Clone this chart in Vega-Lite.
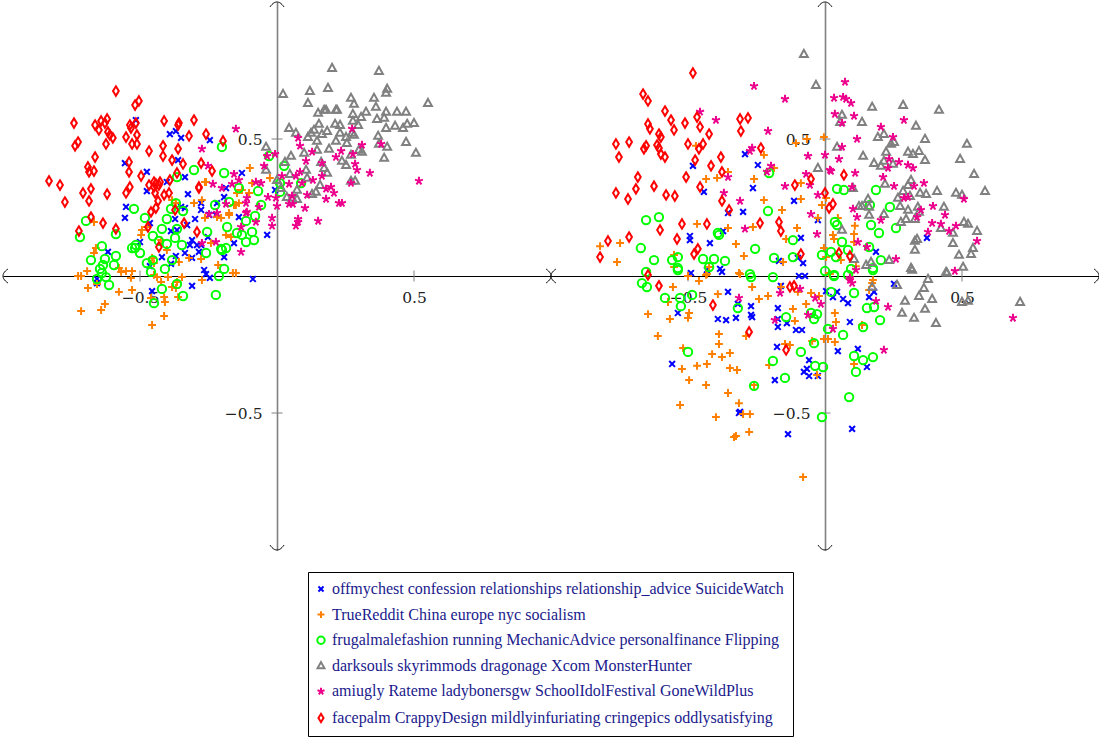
{"$schema":"https://vega.github.io/schema/vega-lite/v6.json","padding":{"left":1,"top":0,"right":0,"bottom":0},"background":"white","spacing":-2,"bounds":"flush",
"config":{"view":{"stroke":null},"concat":{"spacing":-2},"axis":{"grid":false,"title":null,"ticks":false,"labelFont":"DejaVu Serif","labelFontSize":15.5,"labelColor":"#222222","labelOverlap":false,"labelFlush":false}},
"datasets":{
"xticks":[{"x":-0.5,"y":-0.02,"y2":0.02},{"x":0.5,"y":-0.02,"y2":0.02}],
"yticks":[{"y":-0.5,"x":-0.02,"x2":0.02},{"y":0.5,"x":-0.02,"x2":0.02}],
"left":[
{"s":"a","x":-0.515,"y":0.569},{"s":"a","x":-0.391,"y":0.518},{"s":"a","x":-0.369,"y":0.529},{"s":"a","x":-0.35,"y":0.504},{"s":"a","x":-0.245,"y":0.496},{"s":"a","x":-0.555,"y":0.412},{"s":"a","x":-0.361,"y":0.423},{"s":"a","x":-0.475,"y":0.38},{"s":"a","x":-0.336,"y":0.361},{"s":"a","x":-0.128,"y":0.376},{"s":"a","x":-0.402,"y":0.343},{"s":"a","x":-0.186,"y":0.321},{"s":"a","x":-0.475,"y":0.31},{"s":"a","x":-0.551,"y":0.252},{"s":"a","x":-0.555,"y":0.212},{"s":"a","x":-0.325,"y":0.299},{"s":"a","x":-0.193,"y":0.288},{"s":"a","x":-0.277,"y":0.266},{"s":"a","x":-0.277,"y":0.241},{"s":"a","x":-0.35,"y":0.252},{"s":"a","x":-0.336,"y":0.248},{"s":"a","x":-0.219,"y":0.266},{"s":"a","x":-0.464,"y":0.193},{"s":"a","x":-0.372,"y":0.208},{"s":"a","x":-0.299,"y":0.208},{"s":"a","x":-0.328,"y":0.186},{"s":"a","x":-0.387,"y":0.164},{"s":"a","x":-0.365,"y":0.168},{"s":"a","x":-0.139,"y":0.215},{"s":"a","x":-0.223,"y":0.223},{"s":"a","x":-0.248,"y":0.223},{"s":"a","x":-0.007,"y":0.314},{"s":"a","x":-0.036,"y":0.15},{"s":"a","x":-0.157,"y":0.12},{"s":"a","x":-0.252,"y":0.142},{"s":"a","x":-0.31,"y":0.131},{"s":"a","x":-0.318,"y":0.113},{"s":"a","x":-0.292,"y":0.113},{"s":"a","x":-0.277,"y":0.113},{"s":"a","x":-0.5,"y":0.124},{"s":"a","x":-0.617,"y":0.088},{"s":"a","x":-0.42,"y":0.069},{"s":"a","x":-0.369,"y":0.073},{"s":"a","x":-0.336,"y":0.084},{"s":"a","x":-0.285,"y":0.088},{"s":"a","x":-0.31,"y":0.066},{"s":"a","x":-0.387,"y":0.044},{"s":"a","x":-0.464,"y":0.036},{"s":"a","x":-0.193,"y":0.069},{"s":"a","x":-0.266,"y":0.022},{"s":"a","x":-0.259,"y":0.007},{"s":"a","x":-0.245,"y":-0.007},{"s":"a","x":-0.088,"y":-0.011},{"s":"a","x":-0.31,"y":-0.036},{"s":"a","x":-0.456,"y":-0.055},{"s":"a","x":-0.657,"y":-0.011},{"s":"a","x":-0.657,"y":-0.026},
{"s":"b","x":-0.726,"y":0},{"s":"b","x":-0.715,"y":0},{"s":"b","x":-0.693,"y":0.018},{"s":"b","x":-0.69,"y":-0.044},{"s":"b","x":-0.715,"y":-0.128},{"s":"b","x":-0.642,"y":-0.124},{"s":"b","x":-0.628,"y":-0.102},{"s":"b","x":-0.657,"y":-0.029},{"s":"b","x":-0.661,"y":0.102},{"s":"b","x":-0.668,"y":0.084},{"s":"b","x":-0.668,"y":0.197},{"s":"b","x":-0.577,"y":-0.058},{"s":"b","x":-0.529,"y":-0.051},{"s":"b","x":-0.577,"y":0.029},{"s":"b","x":-0.569,"y":0.015},{"s":"b","x":-0.551,"y":0.018},{"s":"b","x":-0.529,"y":0.018},{"s":"b","x":-0.533,"y":-0.007},{"s":"b","x":-0.456,"y":0.066},{"s":"b","x":-0.449,"y":0.047},{"s":"b","x":-0.449,"y":0.004},{"s":"b","x":-0.438,"y":-0.004},{"s":"b","x":-0.46,"y":-0.08},{"s":"b","x":-0.412,"y":-0.077},{"s":"b","x":-0.409,"y":-0.095},{"s":"b","x":-0.361,"y":-0.077},{"s":"b","x":-0.412,"y":-0.146},{"s":"b","x":-0.456,"y":-0.179},{"s":"b","x":-0.423,"y":-0.022},{"s":"b","x":-0.383,"y":-0.04},{"s":"b","x":-0.369,"y":-0.044},{"s":"b","x":-0.365,"y":-0.022},{"s":"b","x":-0.347,"y":-0.004},{"s":"b","x":-0.398,"y":-0.004},{"s":"b","x":-0.402,"y":0.095},{"s":"b","x":-0.358,"y":0.051},{"s":"b","x":-0.321,"y":0.066},{"s":"b","x":-0.277,"y":0.062},{"s":"b","x":-0.274,"y":-0.015},{"s":"b","x":-0.215,"y":0.04},{"s":"b","x":-0.161,"y":0.011},{"s":"b","x":-0.15,"y":0.011},{"s":"b","x":-0.496,"y":0.15},{"s":"b","x":-0.493,"y":0.168},{"s":"b","x":-0.475,"y":0.179},{"s":"b","x":-0.423,"y":0.131},{"s":"b","x":-0.303,"y":0.266},{"s":"b","x":-0.274,"y":0.277},{"s":"b","x":-0.263,"y":0.212},{"s":"b","x":-0.219,"y":0.215},{"s":"b","x":-0.175,"y":0.223},{"s":"b","x":-0.186,"y":0.15},{"s":"b","x":-0.168,"y":0.142},{"s":"b","x":-0.128,"y":0.314},{"s":"b","x":-0.146,"y":0.303},{"s":"b","x":-0.102,"y":0.303},{"s":"b","x":-0.139,"y":0.266},{"s":"b","x":-0.15,"y":0.259},{"s":"b","x":-0.091,"y":0.339},{"s":"b","x":-0.383,"y":0.277},{"s":"b","x":-0.369,"y":0.266},{"s":"b","x":-0.259,"y":0.343},{"s":"b","x":-0.241,"y":0.12},{"s":"b","x":-0.175,"y":0.23},{"s":"b","x":-0.204,"y":0.212},{"s":"b","x":-0.099,"y":0.394},{"s":"b","x":-0.263,"y":0.343},{"s":"b","x":-0.026,"y":0.358},{"s":"b","x":-0.157,"y":0.259},
{"s":"c","x":-0.719,"y":0.142},{"s":"c","x":-0.697,"y":0.201},{"s":"c","x":-0.588,"y":0.153},{"s":"c","x":-0.522,"y":0.245},{"s":"c","x":-0.482,"y":0.212},{"s":"c","x":-0.402,"y":0.208},{"s":"c","x":-0.42,"y":0.172},{"s":"c","x":-0.365,"y":0.172},{"s":"c","x":-0.453,"y":0.146},{"s":"c","x":-0.431,"y":0.128},{"s":"c","x":-0.402,"y":0.117},{"s":"c","x":-0.372,"y":0.139},{"s":"c","x":-0.347,"y":0.113},{"s":"c","x":-0.639,"y":0.109},{"s":"c","x":-0.679,"y":0.058},{"s":"c","x":-0.628,"y":0.062},{"s":"c","x":-0.588,"y":0.073},{"s":"c","x":-0.595,"y":0.04},{"s":"c","x":-0.635,"y":0.04},{"s":"c","x":-0.646,"y":0.026},{"s":"c","x":-0.639,"y":0.011},{"s":"c","x":-0.624,"y":-0.004},{"s":"c","x":-0.657,"y":-0.011},{"s":"c","x":-0.613,"y":-0.033},{"s":"c","x":-0.529,"y":0.102},{"s":"c","x":-0.515,"y":0.113},{"s":"c","x":-0.518,"y":0.102},{"s":"c","x":-0.5,"y":0.084},{"s":"c","x":-0.475,"y":0.047},{"s":"c","x":-0.453,"y":0.058},{"s":"c","x":-0.46,"y":0.015},{"s":"c","x":-0.409,"y":0.026},{"s":"c","x":-0.383,"y":0.058},{"s":"c","x":-0.42,"y":-0.047},{"s":"c","x":-0.365,"y":-0.029},{"s":"c","x":-0.343,"y":-0.073},{"s":"c","x":-0.449,"y":-0.099},{"s":"c","x":-0.223,"y":-0.069},{"s":"c","x":-0.212,"y":0},{"s":"c","x":-0.193,"y":0.026},{"s":"c","x":-0.259,"y":0.084},{"s":"c","x":-0.204,"y":0.099},{"s":"c","x":-0.186,"y":0.102},{"s":"c","x":-0.201,"y":0.095},{"s":"c","x":-0.146,"y":0.157},{"s":"c","x":-0.128,"y":0.15},{"s":"c","x":-0.113,"y":0.124},{"s":"c","x":-0.091,"y":0.161},{"s":"c","x":-0.084,"y":0.131},{"s":"c","x":-0.182,"y":0.179},{"s":"c","x":-0.255,"y":0.161},{"s":"c","x":-0.113,"y":0.201},{"s":"c","x":-0.08,"y":0.219},{"s":"c","x":-0.058,"y":0.259},{"s":"c","x":-0.069,"y":0.31},{"s":"c","x":-0.226,"y":0.259},{"s":"c","x":-0.175,"y":0.27},{"s":"c","x":-0.139,"y":0.321},{"s":"c","x":-0.343,"y":0.237},{"s":"c","x":-0.369,"y":0.266},{"s":"c","x":-0.387,"y":0.245},{"s":"c","x":-0.201,"y":0.471},{"s":"c","x":-0.029,"y":0.438},{"s":"c","x":-0.303,"y":0.387},{"s":"c","x":-0.193,"y":0.376},{"s":"c","x":-0.365,"y":0.361},{"s":"c","x":0.026,"y":0.402},{"s":"c","x":0.088,"y":0.339},{"s":"c","x":0.011,"y":0.339},{"s":"c","x":0.011,"y":0.307},
{"s":"d","x":0.201,"y":0.759},{"s":"d","x":0.372,"y":0.748},{"s":"d","x":0.402,"y":0.683},{"s":"d","x":0.398,"y":0.668},{"s":"d","x":0.022,"y":0.664},{"s":"d","x":0.12,"y":0.675},{"s":"d","x":0.186,"y":0.686},{"s":"d","x":0.27,"y":0.65},{"s":"d","x":0.281,"y":0.628},{"s":"d","x":0.354,"y":0.65},{"s":"d","x":0.361,"y":0.617},{"s":"d","x":0.113,"y":0.631},{"s":"d","x":0.551,"y":0.631},{"s":"d","x":0.15,"y":0.595},{"s":"d","x":0.172,"y":0.606},{"s":"d","x":0.179,"y":0.606},{"s":"d","x":0.215,"y":0.606},{"s":"d","x":0.219,"y":0.606},{"s":"d","x":0.277,"y":0.591},{"s":"d","x":0.325,"y":0.599},{"s":"d","x":0.307,"y":0.58},{"s":"d","x":0.277,"y":0.566},{"s":"d","x":0.398,"y":0.599},{"s":"d","x":0.391,"y":0.577},{"s":"d","x":0.365,"y":0.573},{"s":"d","x":0.438,"y":0.599},{"s":"d","x":0.471,"y":0.599},{"s":"d","x":0.153,"y":0.555},{"s":"d","x":0.212,"y":0.555},{"s":"d","x":0.23,"y":0.551},{"s":"d","x":0.296,"y":0.551},{"s":"d","x":0.398,"y":0.54},{"s":"d","x":0.431,"y":0.548},{"s":"d","x":0.46,"y":0.54},{"s":"d","x":0.475,"y":0.555},{"s":"d","x":0.5,"y":0.558},{"s":"d","x":0.044,"y":0.54},{"s":"d","x":0.069,"y":0.522},{"s":"d","x":0.135,"y":0.533},{"s":"d","x":0.124,"y":0.522},{"s":"d","x":0.183,"y":0.529},{"s":"d","x":0.164,"y":0.518},{"s":"d","x":0.113,"y":0.507},{"s":"d","x":0.23,"y":0.522},{"s":"d","x":0.281,"y":0.515},{"s":"d","x":0.274,"y":0.522},{"s":"d","x":0.252,"y":0.507},{"s":"d","x":0.369,"y":0.511},{"s":"d","x":0.146,"y":0.493},{"s":"d","x":0.215,"y":0.493},{"s":"d","x":0.255,"y":0.485},{"s":"d","x":0.372,"y":0.482},{"s":"d","x":0.402,"y":0.471},{"s":"d","x":0.471,"y":0.489},{"s":"d","x":-0.04,"y":0.471},{"s":"d","x":0.146,"y":0.46},{"s":"d","x":0.19,"y":0.464},{"s":"d","x":0.299,"y":0.46},{"s":"d","x":0.31,"y":0.453},{"s":"d","x":0.507,"y":0.449},{"s":"d","x":0.099,"y":0.449},{"s":"d","x":0.051,"y":0.438},{"s":"d","x":0.27,"y":0.442},{"s":"d","x":0.237,"y":0.42},{"s":"d","x":0.391,"y":0.431},{"s":"d","x":0.029,"y":0.416},{"s":"d","x":0.161,"y":0.416},{"s":"d","x":0.252,"y":0.405},{"s":"d","x":0.106,"y":0.387},{"s":"d","x":0.172,"y":0.394},{"s":"d","x":0.183,"y":0.376},{"s":"d","x":-0.04,"y":0.387},{"s":"d","x":0.047,"y":0.372},{"s":"d","x":0.27,"y":0.347},{"s":"d","x":0.285,"y":0.347},{"s":"d","x":0.11,"y":0.358},{"s":"d","x":0,"y":0.35},{"s":"d","x":0.157,"y":0.332},{"s":"d","x":0.073,"y":0.314},{"s":"d","x":0.055,"y":0.285},{"s":"d","x":0.073,"y":0.281},{"s":"d","x":0.128,"y":0.299},{"s":"d","x":0.036,"y":0.288},{"s":"d","x":0.142,"y":0.307},{"s":"d","x":0.015,"y":0.321},
{"s":"e","x":-0.15,"y":0.537},{"s":"e","x":0.077,"y":0.504},{"s":"e","x":0.084,"y":0.475},{"s":"e","x":0.128,"y":0.453},{"s":"e","x":-0.007,"y":0.445},{"s":"e","x":-0.036,"y":0.438},{"s":"e","x":0.274,"y":0.537},{"s":"e","x":0.31,"y":0.478},{"s":"e","x":0.38,"y":0.482},{"s":"e","x":0.234,"y":0.456},{"s":"e","x":0.215,"y":0.434},{"s":"e","x":0.277,"y":0.445},{"s":"e","x":0.106,"y":0.42},{"s":"e","x":0.164,"y":0.412},{"s":"e","x":0.285,"y":0.409},{"s":"e","x":0.292,"y":0.387},{"s":"e","x":0.339,"y":0.376},{"s":"e","x":-0.047,"y":0.402},{"s":"e","x":0.084,"y":0.38},{"s":"e","x":0.069,"y":0.365},{"s":"e","x":0.164,"y":0.365},{"s":"e","x":0.018,"y":0.365},{"s":"e","x":-0.157,"y":0.372},{"s":"e","x":0.131,"y":0.35},{"s":"e","x":0.044,"y":0.336},{"s":"e","x":0.091,"y":0.339},{"s":"e","x":0.27,"y":0.339},{"s":"e","x":0.518,"y":0.347},{"s":"e","x":-0.058,"y":0.339},{"s":"e","x":-0.077,"y":0.343},{"s":"e","x":-0.164,"y":0.336},{"s":"e","x":-0.139,"y":0.35},{"s":"e","x":0.197,"y":0.325},{"s":"e","x":0.179,"y":0.318},{"s":"e","x":0.208,"y":0.303},{"s":"e","x":0.11,"y":0.296},{"s":"e","x":0.055,"y":0.292},{"s":"e","x":-0.033,"y":0.288},{"s":"e","x":-0.004,"y":0.285},{"s":"e","x":0.179,"y":0.281},{"s":"e","x":0.226,"y":0.266},{"s":"e","x":0.237,"y":0.266},{"s":"e","x":-0.11,"y":0.285},{"s":"e","x":-0.113,"y":0.266},{"s":"e","x":0.044,"y":0.263},{"s":"e","x":0.058,"y":0.263},{"s":"e","x":0,"y":0.255},{"s":"e","x":-0.066,"y":0.252},{"s":"e","x":0.102,"y":0.248},{"s":"e","x":-0.11,"y":0.234},{"s":"e","x":-0.018,"y":0.212},{"s":"e","x":0.077,"y":0.208},{"s":"e","x":0.077,"y":0.197},{"s":"e","x":0.069,"y":0.183},{"s":"e","x":0.15,"y":0.201},{"s":"e","x":-0.018,"y":0.183},{"s":"e","x":-0.077,"y":0.197},{"s":"e","x":-0.131,"y":0.179},{"s":"e","x":-0.274,"y":0.464},{"s":"e","x":-0.252,"y":0.402},{"s":"e","x":-0.234,"y":0.336},{"s":"e","x":-0.201,"y":0.321},{"s":"e","x":-0.248,"y":0.226},{"s":"e","x":-0.219,"y":0.23},{"s":"e","x":-0.113,"y":0.23},{"s":"e","x":-0.131,"y":0.088},{"s":"e","x":-0.223,"y":0.124},{"s":"e","x":-0.274,"y":0.12},{"s":"e","x":-0.186,"y":0.263},
{"s":"f","x":-0.588,"y":0.675},{"s":"f","x":-0.504,"y":0.639},{"s":"f","x":-0.518,"y":0.624},{"s":"f","x":-0.741,"y":0.558},{"s":"f","x":-0.664,"y":0.551},{"s":"f","x":-0.642,"y":0.566},{"s":"f","x":-0.62,"y":0.573},{"s":"f","x":-0.628,"y":0.558},{"s":"f","x":-0.65,"y":0.533},{"s":"f","x":-0.617,"y":0.526},{"s":"f","x":-0.61,"y":0.515},{"s":"f","x":-0.599,"y":0.504},{"s":"f","x":-0.537,"y":0.551},{"s":"f","x":-0.533,"y":0.54},{"s":"f","x":-0.515,"y":0.558},{"s":"f","x":-0.511,"y":0.515},{"s":"f","x":-0.551,"y":0.507},{"s":"f","x":-0.529,"y":0.482},{"s":"f","x":-0.511,"y":0.482},{"s":"f","x":-0.624,"y":0.482},{"s":"f","x":-0.726,"y":0.489},{"s":"f","x":-0.737,"y":0.475},{"s":"f","x":-0.412,"y":0.566},{"s":"f","x":-0.358,"y":0.558},{"s":"f","x":-0.361,"y":0.551},{"s":"f","x":-0.303,"y":0.569},{"s":"f","x":-0.321,"y":0.511},{"s":"f","x":-0.259,"y":0.518},{"s":"f","x":-0.197,"y":0.493},{"s":"f","x":-0.416,"y":0.475},{"s":"f","x":-0.361,"y":0.464},{"s":"f","x":-0.467,"y":0.456},{"s":"f","x":-0.664,"y":0.434},{"s":"f","x":-0.416,"y":0.438},{"s":"f","x":-0.383,"y":0.423},{"s":"f","x":-0.343,"y":0.409},{"s":"f","x":-0.277,"y":0.412},{"s":"f","x":-0.54,"y":0.416},{"s":"f","x":-0.54,"y":0.38},{"s":"f","x":-0.69,"y":0.398},{"s":"f","x":-0.686,"y":0.38},{"s":"f","x":-0.668,"y":0.383},{"s":"f","x":-0.237,"y":0.383},{"s":"f","x":-0.365,"y":0.376},{"s":"f","x":-0.496,"y":0.365},{"s":"f","x":-0.832,"y":0.347},{"s":"f","x":-0.792,"y":0.332},{"s":"f","x":-0.391,"y":0.35},{"s":"f","x":-0.427,"y":0.343},{"s":"f","x":-0.449,"y":0.343},{"s":"f","x":-0.467,"y":0.332},{"s":"f","x":-0.537,"y":0.325},{"s":"f","x":-0.285,"y":0.325},{"s":"f","x":-0.449,"y":0.325},{"s":"f","x":-0.431,"y":0.332},{"s":"f","x":-0.708,"y":0.303},{"s":"f","x":-0.679,"y":0.318},{"s":"f","x":-0.686,"y":0.274},{"s":"f","x":-0.774,"y":0.27},{"s":"f","x":-0.62,"y":0.299},{"s":"f","x":-0.551,"y":0.303},{"s":"f","x":-0.679,"y":0.215},{"s":"f","x":-0.635,"y":0.193},{"s":"f","x":-0.723,"y":0.164},{"s":"f","x":-0.588,"y":0.172},{"s":"f","x":-0.471,"y":0.179},{"s":"f","x":-0.46,"y":0.234},{"s":"f","x":-0.442,"y":0.248},{"s":"f","x":-0.434,"y":0.274},{"s":"f","x":-0.445,"y":0.303},{"s":"f","x":-0.412,"y":0.296},{"s":"f","x":-0.394,"y":0.303},{"s":"f","x":-0.442,"y":0.336},{"s":"f","x":-0.372,"y":0.241},{"s":"f","x":-0.339,"y":0.193},{"s":"f","x":-0.292,"y":0.161},{"s":"f","x":-0.431,"y":0.106},{"s":"f","x":-0.285,"y":0.321}
],
"right":[
{"s":"a","x":-0.292,"y":0.445},{"s":"a","x":-0.482,"y":0.402},{"s":"a","x":-0.245,"y":0.405},{"s":"a","x":-0.263,"y":0.321},{"s":"a","x":-0.442,"y":0.307},{"s":"a","x":-0.113,"y":0.274},{"s":"a","x":-0.299,"y":0.234},{"s":"a","x":-0.354,"y":0.23},{"s":"a","x":-0.026,"y":0.204},{"s":"a","x":-0.493,"y":0.146},{"s":"a","x":-0.493,"y":0.131},{"s":"a","x":-0.372,"y":0.164},{"s":"a","x":-0.42,"y":0.12},{"s":"a","x":-0.088,"y":0.139},{"s":"a","x":-0.168,"y":0.055},{"s":"a","x":-0.099,"y":0.066},{"s":"a","x":-0.08,"y":0.047},{"s":"a","x":-0.489,"y":0.011},{"s":"a","x":-0.431,"y":0.022},{"s":"a","x":-0.383,"y":0.026},{"s":"a","x":-0.376,"y":0.015},{"s":"a","x":-0.095,"y":0},{"s":"a","x":-0.073,"y":0},{"s":"a","x":-0.161,"y":-0.036},{"s":"a","x":-0.354,"y":-0.058},{"s":"a","x":-0.318,"y":-0.102},{"s":"a","x":-0.27,"y":-0.11},{"s":"a","x":-0.172,"y":-0.117},{"s":"a","x":-0.537,"y":-0.135},{"s":"a","x":-0.391,"y":-0.157},{"s":"a","x":-0.361,"y":-0.161},{"s":"a","x":-0.325,"y":-0.153},{"s":"a","x":-0.27,"y":-0.142},{"s":"a","x":-0.266,"y":-0.15},{"s":"a","x":-0.172,"y":-0.157},{"s":"a","x":-0.139,"y":-0.172},{"s":"a","x":-0.172,"y":-0.186},{"s":"a","x":-0.106,"y":-0.197},{"s":"a","x":-0.084,"y":-0.197},{"s":"a","x":-0.175,"y":-0.259},{"s":"a","x":-0.058,"y":-0.307},{"s":"a","x":-0.558,"y":-0.321},{"s":"a","x":-0.077,"y":-0.35},{"s":"a","x":-0.066,"y":-0.339},{"s":"a","x":-0.058,"y":-0.365},{"s":"a","x":-0.026,"y":-0.365},{"s":"a","x":-0.183,"y":-0.38},{"s":"a","x":-0.314,"y":-0.5},{"s":"a","x":-0.31,"y":-0.496},{"s":"a","x":-0.135,"y":-0.577},{"s":"a","x":0.004,"y":-0.055},{"s":"a","x":0.044,"y":-0.058},{"s":"a","x":0.029,"y":-0.077},{"s":"a","x":0.066,"y":-0.084},{"s":"a","x":0.084,"y":-0.099},{"s":"a","x":0.179,"y":-0.058},{"s":"a","x":0.161,"y":-0.077},{"s":"a","x":0.252,"y":-0.029},{"s":"a","x":0.091,"y":-0.168},{"s":"a","x":0.047,"y":-0.274},{"s":"a","x":0.12,"y":-0.266},{"s":"a","x":0.153,"y":-0.332},{"s":"a","x":0.099,"y":-0.558},{"s":"a","x":0.372,"y":0.139},{"s":"a","x":0.186,"y":0.088},
{"s":"b","x":-0.821,"y":0.109},{"s":"b","x":-0.748,"y":0.12},{"s":"b","x":-0.759,"y":0.051},{"s":"b","x":-0.551,"y":0.077},{"s":"b","x":-0.551,"y":0.033},{"s":"b","x":-0.467,"y":0.19},{"s":"b","x":-0.471,"y":0.475},{"s":"b","x":-0.434,"y":0.354},{"s":"b","x":-0.394,"y":0.358},{"s":"b","x":-0.354,"y":0.38},{"s":"b","x":-0.259,"y":0.354},{"s":"b","x":-0.354,"y":0.175},{"s":"b","x":-0.325,"y":0.117},{"s":"b","x":-0.263,"y":0.179},{"s":"b","x":-0.296,"y":0.073},{"s":"b","x":-0.423,"y":0.033},{"s":"b","x":-0.223,"y":0.277},{"s":"b","x":-0.157,"y":0.241},{"s":"b","x":-0.223,"y":0.442},{"s":"b","x":-0.186,"y":0.394},{"s":"b","x":-0.066,"y":0.5},{"s":"b","x":-0.106,"y":0.485},{"s":"b","x":-0.004,"y":0.507},{"s":"b","x":-0.088,"y":0.339},{"s":"b","x":-0.088,"y":0.281},{"s":"b","x":-0.011,"y":0.259},{"s":"b","x":0.004,"y":0.285},{"s":"b","x":-0.026,"y":0.212},{"s":"b","x":-0.102,"y":0.175},{"s":"b","x":-0.142,"y":0.135},{"s":"b","x":-0.153,"y":0.051},{"s":"b","x":-0.004,"y":0.102},{"s":"b","x":0.004,"y":0.069},{"s":"b","x":-0.314,"y":0.011},{"s":"b","x":-0.434,"y":0.004},{"s":"b","x":-0.5,"y":0},{"s":"b","x":-0.46,"y":-0.018},{"s":"b","x":-0.555,"y":-0.04},{"s":"b","x":-0.391,"y":-0.066},{"s":"b","x":-0.573,"y":-0.095},{"s":"b","x":-0.646,"y":-0.139},{"s":"b","x":-0.496,"y":-0.135},{"s":"b","x":-0.5,"y":-0.153},{"s":"b","x":-0.566,"y":-0.157},{"s":"b","x":-0.61,"y":-0.219},{"s":"b","x":-0.387,"y":-0.212},{"s":"b","x":-0.387,"y":-0.248},{"s":"b","x":-0.518,"y":-0.263},{"s":"b","x":-0.412,"y":-0.285},{"s":"b","x":-0.347,"y":-0.281},{"s":"b","x":-0.376,"y":-0.296},{"s":"b","x":-0.431,"y":-0.321},{"s":"b","x":-0.467,"y":-0.328},{"s":"b","x":-0.522,"y":-0.339},{"s":"b","x":-0.347,"y":-0.336},{"s":"b","x":-0.321,"y":-0.343},{"s":"b","x":-0.496,"y":-0.38},{"s":"b","x":-0.434,"y":-0.398},{"s":"b","x":-0.354,"y":-0.427},{"s":"b","x":-0.314,"y":-0.464},{"s":"b","x":-0.529,"y":-0.471},{"s":"b","x":-0.299,"y":-0.504},{"s":"b","x":-0.274,"y":-0.504},{"s":"b","x":-0.398,"y":-0.515},{"s":"b","x":-0.325,"y":-0.584},{"s":"b","x":-0.332,"y":-0.588},{"s":"b","x":-0.277,"y":-0.569},{"s":"b","x":-0.08,"y":-0.734},{"s":"b","x":-0.266,"y":-0.04},{"s":"b","x":-0.208,"y":-0.073},{"s":"b","x":-0.241,"y":-0.084},{"s":"b","x":-0.069,"y":-0.102},{"s":"b","x":-0.117,"y":-0.12},{"s":"b","x":-0.051,"y":-0.062},{"s":"b","x":-0.022,"y":-0.073},{"s":"b","x":-0.11,"y":-0.164},{"s":"b","x":-0.288,"y":-0.219},{"s":"b","x":-0.146,"y":-0.248},{"s":"b","x":-0.128,"y":-0.252},{"s":"b","x":-0.047,"y":-0.237},{"s":"b","x":-0.004,"y":-0.23},{"s":"b","x":0.011,"y":-0.23},{"s":"b","x":-0.204,"y":-0.325},{"s":"b","x":-0.029,"y":-0.361},{"s":"b","x":-0.259,"y":-0.398},{"s":"b","x":-0.099,"y":-0.058},{"s":"b","x":-0.161,"y":-0.04},{"s":"b","x":-0.431,"y":0.007},{"s":"b","x":-0.31,"y":0.007},{"s":"b","x":0.018,"y":0.007},{"s":"b","x":0.036,"y":-0.135},{"s":"b","x":0.04,"y":-0.168},{"s":"b","x":0.036,"y":-0.241},{"s":"b","x":0.135,"y":-0.179},{"s":"b","x":0.106,"y":-0.321},{"s":"b","x":0.161,"y":-0.051},{"s":"b","x":0.172,"y":-0.026},{"s":"b","x":0.047,"y":0.212},{"s":"b","x":0.109,"y":0.183},{"s":"b","x":0.106,"y":0.153},{"s":"b","x":0.029,"y":0.15},{"s":"b","x":0.033,"y":0.135},{"s":"b","x":0.106,"y":0.124},{"s":"b","x":0.058,"y":0.058},{"s":"b","x":0.113,"y":0.036},{"s":"b","x":0.015,"y":0.011},{"s":"b","x":0.175,"y":-0.015},
{"s":"c","x":-0.653,"y":0.204},{"s":"c","x":-0.606,"y":0.215},{"s":"c","x":-0.208,"y":0.237},{"s":"c","x":-0.204,"y":0.376},{"s":"c","x":-0.387,"y":0.15},{"s":"c","x":-0.391,"y":0.157},{"s":"c","x":-0.672,"y":0.102},{"s":"c","x":-0.624,"y":0.058},{"s":"c","x":-0.558,"y":0.058},{"s":"c","x":-0.537,"y":0.069},{"s":"c","x":-0.537,"y":0.029},{"s":"c","x":-0.445,"y":0.062},{"s":"c","x":-0.405,"y":0.062},{"s":"c","x":-0.365,"y":0.055},{"s":"c","x":-0.423,"y":0.033},{"s":"c","x":-0.255,"y":0.099},{"s":"c","x":-0.117,"y":0.131},{"s":"c","x":-0.186,"y":0.066},{"s":"c","x":-0.117,"y":0.069},{"s":"c","x":-0.011,"y":0.077},{"s":"c","x":0,"y":0.018},{"s":"c","x":-0.653,"y":0.015},{"s":"c","x":-0.274,"y":0.007},{"s":"c","x":-0.27,"y":-0.004},{"s":"c","x":-0.19,"y":-0.004},{"s":"c","x":-0.668,"y":-0.026},{"s":"c","x":-0.65,"y":-0.04},{"s":"c","x":-0.584,"y":-0.08},{"s":"c","x":-0.529,"y":-0.08},{"s":"c","x":-0.485,"y":-0.069},{"s":"c","x":-0.526,"y":-0.11},{"s":"c","x":-0.318,"y":-0.117},{"s":"c","x":-0.537,"y":0.022},{"s":"c","x":-0.142,"y":-0.15},{"s":"c","x":-0.051,"y":-0.135},{"s":"c","x":-0.029,"y":-0.139},{"s":"c","x":-0.04,"y":-0.157},{"s":"c","x":0.011,"y":-0.193},{"s":"c","x":-0.04,"y":-0.245},{"s":"c","x":-0.088,"y":-0.277},{"s":"c","x":-0.5,"y":-0.277},{"s":"c","x":-0.19,"y":-0.31},{"s":"c","x":-0.146,"y":-0.372},{"s":"c","x":-0.036,"y":-0.328},{"s":"c","x":-0.007,"y":-0.332},{"s":"c","x":-0.259,"y":-0.401},{"s":"c","x":-0.011,"y":-0.515},{"s":"c","x":0.088,"y":-0.442},{"s":"c","x":0.022,"y":-0.058},{"s":"c","x":0.033,"y":0.004},{"s":"c","x":0.084,"y":0.004},{"s":"c","x":0.106,"y":-0.062},{"s":"c","x":0.153,"y":-0.117},{"s":"c","x":0.179,"y":-0.113},{"s":"c","x":0.175,"y":0.022},{"s":"c","x":0.201,"y":-0.161},{"s":"c","x":0.139,"y":-0.186},{"s":"c","x":0.066,"y":-0.215},{"s":"c","x":0.106,"y":-0.292},{"s":"c","x":0.139,"y":-0.307},{"s":"c","x":0.175,"y":-0.296},{"s":"c","x":0.113,"y":-0.35},{"s":"c","x":0.044,"y":0.318},{"s":"c","x":0.069,"y":0.314},{"s":"c","x":0.186,"y":0.314},{"s":"c","x":0.164,"y":0.259},{"s":"c","x":0.237,"y":0.252},{"s":"c","x":0.036,"y":0.197},{"s":"c","x":0.044,"y":0.186},{"s":"c","x":0.168,"y":0.186},{"s":"c","x":0.197,"y":0.157},{"s":"c","x":0.259,"y":0.175},{"s":"c","x":0.062,"y":0.124},{"s":"c","x":0.161,"y":0.106},{"s":"c","x":0.084,"y":0.095},{"s":"c","x":0.022,"y":0.088},{"s":"c","x":0.04,"y":0.069},{"s":"c","x":0.204,"y":0.058},{"s":"c","x":0.175,"y":0.029},{"s":"c","x":0.033,"y":0},{"s":"c","x":0.095,"y":0.026},
{"s":"d","x":-0.077,"y":0.81},{"s":"d","x":-0.033,"y":0.697},{"s":"d","x":0.062,"y":0.588},{"s":"d","x":0.055,"y":0.562},{"s":"d","x":0.172,"y":0.617},{"s":"d","x":0.285,"y":0.624},{"s":"d","x":0.416,"y":0.606},{"s":"d","x":0.135,"y":0.562},{"s":"d","x":0.332,"y":0.548},{"s":"d","x":0.215,"y":0.518},{"s":"d","x":0.193,"y":0.507},{"s":"d","x":0.252,"y":0.489},{"s":"d","x":0.241,"y":0.482},{"s":"d","x":0.365,"y":0.5},{"s":"d","x":0.518,"y":0.482},{"s":"d","x":0.044,"y":0.471},{"s":"d","x":0.303,"y":0.453},{"s":"d","x":0.321,"y":0.445},{"s":"d","x":0.343,"y":0.456},{"s":"d","x":0.223,"y":0.453},{"s":"d","x":0.139,"y":0.438},{"s":"d","x":0.365,"y":0.423},{"s":"d","x":0.493,"y":0.427},{"s":"d","x":0.179,"y":0.412},{"s":"d","x":0.215,"y":0.42},{"s":"d","x":0.204,"y":0.402},{"s":"d","x":0.248,"y":0.409},{"s":"d","x":-0.026,"y":0.394},{"s":"d","x":0.544,"y":0.372},{"s":"d","x":0.314,"y":0.35},{"s":"d","x":0.219,"y":0.336},{"s":"d","x":0.303,"y":0.332},{"s":"d","x":0.102,"y":0.321},{"s":"d","x":0.285,"y":0.31},{"s":"d","x":0.347,"y":0.303},{"s":"d","x":0.369,"y":0.299},{"s":"d","x":0.409,"y":0.31},{"s":"d","x":0.478,"y":0.303},{"s":"d","x":0.5,"y":0.296},{"s":"d","x":0.584,"y":0.31},{"s":"d","x":0.31,"y":0.292},{"s":"d","x":0.266,"y":0.285},{"s":"d","x":0.157,"y":0.281},{"s":"d","x":0.124,"y":0.255},{"s":"d","x":0.135,"y":0.255},{"s":"d","x":0.161,"y":0.252},{"s":"d","x":0.274,"y":0.255},{"s":"d","x":0.303,"y":0.241},{"s":"d","x":0.339,"y":0.252},{"s":"d","x":0.343,"y":0.234},{"s":"d","x":0.434,"y":0.252},{"s":"d","x":0.161,"y":0.223},{"s":"d","x":0.215,"y":0.226},{"s":"d","x":0.296,"y":0.208},{"s":"d","x":0.328,"y":0.208},{"s":"d","x":0.277,"y":0.197},{"s":"d","x":0.507,"y":0.197},{"s":"d","x":0.522,"y":0.19},{"s":"d","x":0.062,"y":0.168},{"s":"d","x":0.423,"y":0.175},{"s":"d","x":0.467,"y":0.157},{"s":"d","x":0.555,"y":0.164},{"s":"d","x":0.336,"y":0.135},{"s":"d","x":0.328,"y":0.128},{"s":"d","x":0.467,"y":0.12},{"s":"d","x":0.54,"y":0.102},{"s":"d","x":0.328,"y":0.095},{"s":"d","x":0.489,"y":0.077},{"s":"d","x":0.533,"y":0.08},{"s":"d","x":0.106,"y":0.062},{"s":"d","x":0.168,"y":0.051},{"s":"d","x":0.15,"y":0.04},{"s":"d","x":0.234,"y":0.058},{"s":"d","x":0.314,"y":0.029},{"s":"d","x":0.504,"y":0.033},{"s":"d","x":0.442,"y":0.015},{"s":"d","x":0.376,"y":-0.011},{"s":"d","x":0.318,"y":0.022},{"s":"d","x":0.445,"y":0.011},{"s":"d","x":0.172,"y":-0.04},{"s":"d","x":0.263,"y":-0.033},{"s":"d","x":0.361,"y":-0.044},{"s":"d","x":0.343,"y":-0.073},{"s":"d","x":0.391,"y":-0.084},{"s":"d","x":0.292,"y":-0.091},{"s":"d","x":0.5,"y":-0.095},{"s":"d","x":0.522,"y":-0.091},{"s":"d","x":0.712,"y":-0.095},{"s":"d","x":0.365,"y":-0.12},{"s":"d","x":0.281,"y":-0.135},{"s":"d","x":0.325,"y":-0.153},{"s":"d","x":0.405,"y":-0.172},
{"s":"e","x":0.073,"y":0.708},{"s":"e","x":0.033,"y":0.65},{"s":"e","x":0.066,"y":0.653},{"s":"e","x":0.077,"y":0.646},{"s":"e","x":0.095,"y":0.631},{"s":"e","x":0.036,"y":0.591},{"s":"e","x":0.106,"y":0.584},{"s":"e","x":0.062,"y":0.558},{"s":"e","x":0.288,"y":0.569},{"s":"e","x":0.204,"y":0.544},{"s":"e","x":0.248,"y":0.507},{"s":"e","x":0.117,"y":0.5},{"s":"e","x":0.062,"y":0.471},{"s":"e","x":-0.062,"y":0.438},{"s":"e","x":0,"y":0.442},{"s":"e","x":0.051,"y":0.427},{"s":"e","x":0.234,"y":0.427},{"s":"e","x":0.27,"y":0.416},{"s":"e","x":0.303,"y":0.405},{"s":"e","x":0.321,"y":0.394},{"s":"e","x":0.23,"y":0.394},{"s":"e","x":0.022,"y":0.383},{"s":"e","x":0.11,"y":0.376},{"s":"e","x":-0.069,"y":0.372},{"s":"e","x":0.212,"y":0.361},{"s":"e","x":0.361,"y":0.339},{"s":"e","x":-0.055,"y":0.332},{"s":"e","x":0.252,"y":0.328},{"s":"e","x":0.325,"y":0.328},{"s":"e","x":0.099,"y":0.325},{"s":"e","x":-0.026,"y":0.296},{"s":"e","x":0.288,"y":0.285},{"s":"e","x":0.303,"y":0.288},{"s":"e","x":0.507,"y":0.281},{"s":"e","x":0.394,"y":0.255},{"s":"e","x":0.102,"y":0.245},{"s":"e","x":0.35,"y":0.241},{"s":"e","x":0.438,"y":0.223},{"s":"e","x":-0.051,"y":0.226},{"s":"e","x":0.117,"y":0.215},{"s":"e","x":0.336,"y":0.215},{"s":"e","x":0.204,"y":0.204},{"s":"e","x":0.391,"y":0.193},{"s":"e","x":0.423,"y":0.19},{"s":"e","x":0.478,"y":0.183},{"s":"e","x":0.376,"y":0.161},{"s":"e","x":0.453,"y":0.164},{"s":"e","x":-0.029,"y":0.153},{"s":"e","x":0.555,"y":0.128},{"s":"e","x":0.12,"y":0.124},{"s":"e","x":0.153,"y":0.106},{"s":"e","x":0.259,"y":0.062},{"s":"e","x":0.474,"y":0.018},{"s":"e","x":0.113,"y":0.022},{"s":"e","x":0.091,"y":-0.007},{"s":"e","x":-0.259,"y":0.693},{"s":"e","x":-0.146,"y":0.646},{"s":"e","x":-0.456,"y":0.599},{"s":"e","x":-0.398,"y":0.569},{"s":"e","x":-0.208,"y":0.529},{"s":"e","x":-0.266,"y":0.467},{"s":"e","x":-0.274,"y":0.456},{"s":"e","x":-0.197,"y":0.402},{"s":"e","x":-0.212,"y":0.38},{"s":"e","x":-0.354,"y":0.361},{"s":"e","x":-0.146,"y":0.328},{"s":"e","x":-0.369,"y":0.303},{"s":"e","x":-0.31,"y":0.274},{"s":"e","x":-0.292,"y":0.172},{"s":"e","x":0.018,"y":0.387},{"s":"e","x":-0.314,"y":-0.08},{"s":"e","x":-0.164,"y":-0.062},{"s":"e","x":-0.091,"y":-0.047},{"s":"e","x":-0.036,"y":-0.08},{"s":"e","x":-0.015,"y":-0.102},{"s":"e","x":-0.183,"y":-0.161},{"s":"e","x":-0.062,"y":-0.142},{"s":"e","x":0.091,"y":-0.015},{"s":"e","x":0.099,"y":-0.026},{"s":"e","x":0.029,"y":-0.193},{"s":"e","x":0.186,"y":-0.091},{"s":"e","x":0.23,"y":-0.113},{"s":"e","x":0.215,"y":-0.27},{"s":"e","x":0.686,"y":-0.153},
{"s":"f","x":-0.482,"y":0.741},{"s":"f","x":-0.664,"y":0.664},{"s":"f","x":-0.646,"y":0.639},{"s":"f","x":-0.584,"y":0.602},{"s":"f","x":-0.562,"y":0.569},{"s":"f","x":-0.467,"y":0.58},{"s":"f","x":-0.511,"y":0.558},{"s":"f","x":-0.646,"y":0.555},{"s":"f","x":-0.639,"y":0.537},{"s":"f","x":-0.551,"y":0.533},{"s":"f","x":-0.456,"y":0.544},{"s":"f","x":-0.31,"y":0.573},{"s":"f","x":-0.281,"y":0.577},{"s":"f","x":-0.307,"y":0.529},{"s":"f","x":-0.606,"y":0.518},{"s":"f","x":-0.599,"y":0.507},{"s":"f","x":-0.423,"y":0.518},{"s":"f","x":-0.715,"y":0.489},{"s":"f","x":-0.763,"y":0.482},{"s":"f","x":-0.5,"y":0.482},{"s":"f","x":-0.445,"y":0.482},{"s":"f","x":-0.613,"y":0.478},{"s":"f","x":-0.653,"y":0.475},{"s":"f","x":-0.661,"y":0.464},{"s":"f","x":-0.606,"y":0.467},{"s":"f","x":-0.46,"y":0.464},{"s":"f","x":-0.234,"y":0.467},{"s":"f","x":-0.752,"y":0.434},{"s":"f","x":-0.599,"y":0.445},{"s":"f","x":-0.584,"y":0.434},{"s":"f","x":-0.38,"y":0.434},{"s":"f","x":-0.474,"y":0.423},{"s":"f","x":-0.416,"y":0.402},{"s":"f","x":-0.376,"y":0.38},{"s":"f","x":-0.683,"y":0.361},{"s":"f","x":-0.507,"y":0.361},{"s":"f","x":-0.624,"y":0.328},{"s":"f","x":-0.69,"y":0.318},{"s":"f","x":-0.456,"y":0.325},{"s":"f","x":-0.11,"y":0.332},{"s":"f","x":-0.051,"y":0.354},{"s":"f","x":-0.763,"y":0.303},{"s":"f","x":-0.719,"y":0.281},{"s":"f","x":-0.58,"y":0.296},{"s":"f","x":-0.548,"y":0.292},{"s":"f","x":-0.376,"y":0.274},{"s":"f","x":0,"y":0.303},{"s":"f","x":0.015,"y":0.248},{"s":"f","x":-0.35,"y":0.241},{"s":"f","x":-0.522,"y":0.19},{"s":"f","x":-0.431,"y":0.19},{"s":"f","x":-0.237,"y":0.193},{"s":"f","x":-0.168,"y":0.197},{"s":"f","x":-0.161,"y":0.164},{"s":"f","x":-0.602,"y":0.168},{"s":"f","x":-0.715,"y":0.142},{"s":"f","x":-0.792,"y":0.128},{"s":"f","x":-0.54,"y":0.135},{"s":"f","x":-0.464,"y":0.099},{"s":"f","x":-0.478,"y":0.08},{"s":"f","x":-0.821,"y":0.069},{"s":"f","x":-0.088,"y":0.08},{"s":"f","x":-0.646,"y":0.004},{"s":"f","x":-0.606,"y":-0.036},{"s":"f","x":-0.409,"y":-0.106},{"s":"f","x":-0.277,"y":-0.204},{"s":"f","x":-0.142,"y":-0.27},{"s":"f","x":-0.128,"y":-0.04},{"s":"f","x":-0.113,"y":-0.036},{"s":"f","x":0.069,"y":0.369},{"s":"f","x":0.029,"y":0.263},{"s":"f","x":0.051,"y":0.084},{"s":"f","x":0.091,"y":0.073}
]},
"resolve":{"scale":{"color":"shared","shape":"shared"},"legend":{"color":"shared","shape":"shared"}},
"hconcat":[
{"width":548,"height":548,
"encoding":{"x":{"field":"x","type":"quantitative","scale":{"domain":[-1,1],"nice":false,"zero":false},"axis":{"values":[-0.5,0.5],"format":".1f","orient":"bottom","offset":-274,"domainColor":"#000000","domainWidth":1.2,"labelPadding":14}},"y":{"field":"y","type":"quantitative","scale":{"domain":[-1,1],"nice":false,"zero":false},"axis":{"values":[-0.5,0.5],"format":".1f","orient":"left","offset":-274,"domainColor":"#808080","domainWidth":1.6,"labelPadding":15}}},
"layer":[
{"data":{"name":"xticks"},"mark":{"type":"rule","color":"#808080","strokeWidth":1},"encoding":{"y2":{"field":"y2"}}},
{"data":{"name":"yticks"},"mark":{"type":"rule","color":"#808080","strokeWidth":1},"encoding":{"x2":{"field":"x2"}}},
{"data":{"values":[{"x":1,"y":0}]},"mark":{"type":"point","shape":"M-.7,-1C-.15,-.6 0,-.3 0,0C0,.3 -.15,.6 -.7,1","size":196,"stroke":"#000000","strokeWidth":1,"filled":false,"opacity":1}},
{"data":{"values":[{"x":-1,"y":0}]},"mark":{"type":"point","shape":"M.7,-1C.15,-.6 0,-.3 0,0C0,.3 .15,.6 .7,1","size":196,"stroke":"#000000","strokeWidth":1,"filled":false,"opacity":1}},
{"data":{"values":[{"x":0,"y":1}]},"mark":{"type":"point","shape":"M-1,.7C-.6,.15 -.3,0 0,0C.3,0 .6,.15 1,.7","size":196,"stroke":"#000000","strokeWidth":1,"filled":false,"opacity":1}},
{"data":{"values":[{"x":0,"y":-1}]},"mark":{"type":"point","shape":"M-1,-.7C-.6,-.15 -.3,0 0,0C.3,0 .6,-.15 1,-.7","size":196,"stroke":"#000000","strokeWidth":1,"filled":false,"opacity":1}},
{"data":{"name":"left"},"mark":{"type":"point","filled":false,"opacity":1,"size":110,"strokeWidth":2},
"encoding":{"color":{"field":"s","type":"nominal","scale":{"domain":["a","b","c","d","e","f"],"range":["#0000ff","#ff8000","#00ff00","#808080","#ec008c","#ff0000"]},"legend":{"title":null,"orient":"none","legendX":305,"legendY":570,"padding":9,"fillColor":"white","strokeColor":"#000000","labelFont":"Liberation Serif","labelFontSize":16,"labelColor":"#1a1a8c","labelLimit":700,"labelOffset":3,"symbolOffset":-4,"symbolSize":85,"symbolStrokeWidth":2,"rowPadding":9.6,"labelExpr":"{'a':'offmychest confession relationships relationship_advice SuicideWatch','b':'TrueReddit China europe nyc socialism','c':'frugalmalefashion running MechanicAdvice personalfinance Flipping','d':'darksouls skyrimmods dragonage Xcom MonsterHunter','e':'amiugly Rateme ladybonersgw SchoolIdolFestival GoneWildPlus','f':'facepalm CrappyDesign mildlyinfuriating cringepics oddlysatisfying'}[datum.value]"}},
"shape":{"field":"s","type":"nominal","scale":{"domain":["a","b","c","d","e","f"],"range":["M-.55,-.55L.55,.55M-.55,.55L.55,-.55","M-.75,0L.75,0M0,-.75L0,.75","M.8,0A.8,.8 0 1 1 -.8,0A.8,.8 0 1 1 .8,0Z","M0,-.8L.75,.55L-.75,.55Z","M0,0L0,-.8M0,0L.76,-.25M0,0L.47,.65M0,0L-.47,.65M0,0L-.76,-.25","M0,-.9L.55,0L0,.9L-.55,0Z"]}}}}
]},
{"width":548,"height":548,
"encoding":{"x":{"field":"x","type":"quantitative","scale":{"domain":[-1,1],"nice":false,"zero":false},"axis":{"values":[-0.5,0.5],"format":".1f","orient":"bottom","offset":-274,"domainColor":"#000000","domainWidth":1.2,"labelPadding":14}},"y":{"field":"y","type":"quantitative","scale":{"domain":[-1,1],"nice":false,"zero":false},"axis":{"values":[-0.5,0.5],"format":".1f","orient":"left","offset":-274,"domainColor":"#808080","domainWidth":1.6,"labelPadding":15}}},
"layer":[
{"data":{"name":"xticks"},"mark":{"type":"rule","color":"#808080","strokeWidth":1},"encoding":{"y2":{"field":"y2"}}},
{"data":{"name":"yticks"},"mark":{"type":"rule","color":"#808080","strokeWidth":1},"encoding":{"x2":{"field":"x2"}}},
{"data":{"values":[{"x":1,"y":0}]},"mark":{"type":"point","shape":"M-.7,-1C-.15,-.6 0,-.3 0,0C0,.3 -.15,.6 -.7,1","size":196,"stroke":"#000000","strokeWidth":1,"filled":false,"opacity":1}},
{"data":{"values":[{"x":-1,"y":0}]},"mark":{"type":"point","shape":"M.7,-1C.15,-.6 0,-.3 0,0C0,.3 .15,.6 .7,1","size":196,"stroke":"#000000","strokeWidth":1,"filled":false,"opacity":1}},
{"data":{"values":[{"x":0,"y":1}]},"mark":{"type":"point","shape":"M-1,.7C-.6,.15 -.3,0 0,0C.3,0 .6,.15 1,.7","size":196,"stroke":"#000000","strokeWidth":1,"filled":false,"opacity":1}},
{"data":{"values":[{"x":0,"y":-1}]},"mark":{"type":"point","shape":"M-1,-.7C-.6,-.15 -.3,0 0,0C.3,0 .6,-.15 1,-.7","size":196,"stroke":"#000000","strokeWidth":1,"filled":false,"opacity":1}},
{"data":{"name":"right"},"mark":{"type":"point","filled":false,"opacity":1,"size":110,"strokeWidth":2},
"encoding":{"color":{"field":"s","type":"nominal","scale":{"domain":["a","b","c","d","e","f"],"range":["#0000ff","#ff8000","#00ff00","#808080","#ec008c","#ff0000"]},"legend":{"title":null,"orient":"none","legendX":305,"legendY":570,"padding":9,"fillColor":"white","strokeColor":"#000000","labelFont":"Liberation Serif","labelFontSize":16,"labelColor":"#1a1a8c","labelLimit":700,"labelOffset":3,"symbolOffset":-4,"symbolSize":85,"symbolStrokeWidth":2,"rowPadding":9.6,"labelExpr":"{'a':'offmychest confession relationships relationship_advice SuicideWatch','b':'TrueReddit China europe nyc socialism','c':'frugalmalefashion running MechanicAdvice personalfinance Flipping','d':'darksouls skyrimmods dragonage Xcom MonsterHunter','e':'amiugly Rateme ladybonersgw SchoolIdolFestival GoneWildPlus','f':'facepalm CrappyDesign mildlyinfuriating cringepics oddlysatisfying'}[datum.value]"}},
"shape":{"field":"s","type":"nominal","scale":{"domain":["a","b","c","d","e","f"],"range":["M-.55,-.55L.55,.55M-.55,.55L.55,-.55","M-.75,0L.75,0M0,-.75L0,.75","M.8,0A.8,.8 0 1 1 -.8,0A.8,.8 0 1 1 .8,0Z","M0,-.8L.75,.55L-.75,.55Z","M0,0L0,-.8M0,0L.76,-.25M0,0L.47,.65M0,0L-.47,.65M0,0L-.76,-.25","M0,-.9L.55,0L0,.9L-.55,0Z"]}}}}
]}
]}
